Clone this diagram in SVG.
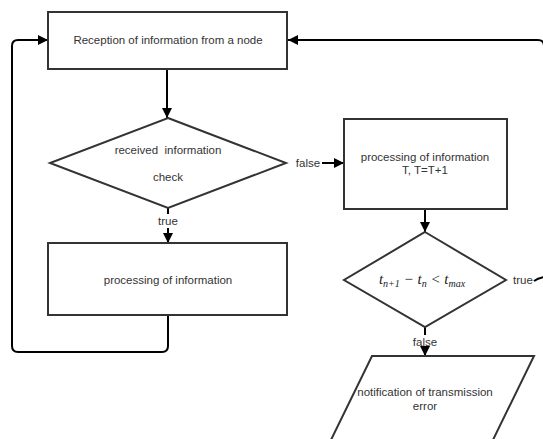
<svg xmlns="http://www.w3.org/2000/svg" width="543" height="439" viewBox="0 0 543 439">
<defs>
<marker id="ah" viewBox="0 0 10 10" refX="10" refY="5" markerWidth="10" markerHeight="10" markerUnits="userSpaceOnUse" orient="auto">
<path d="M0,0 L10,5 L0,10 Z" fill="#000"/>
</marker>
<style>
.shape{fill:#fff;stroke:#333;stroke-width:2}
.t{font-family:"Liberation Sans",Arial,sans-serif;font-size:11.5px;fill:#333;text-anchor:middle;white-space:pre}
.lbl{font-family:"Liberation Sans",Arial,sans-serif;font-size:11.5px;fill:#333;text-anchor:middle}
.c{fill:none;stroke:#000;stroke-width:2}
.m{font-family:"Liberation Serif","Times New Roman",serif;font-style:italic;fill:#222}
</style>
</defs>
<rect width="543" height="439" fill="#fff"/>
<g id="connectors">
<path class="c" d="M167,69 V118" marker-end="url(#ah)"/>
<path class="c" d="M168,208 V214"/>
<path class="c" d="M168,228 V243" marker-end="url(#ah)"/>
<path class="c" d="M322,163 H344" marker-end="url(#ah)"/>
<path class="c" d="M425,209 V232" marker-end="url(#ah)"/>
<path class="c" d="M425,327 V335"/>
<path class="c" d="M425,349 V356" marker-end="url(#ah)"/>
<path class="c" d="M168,315 V346 Q168,352 162,352 H18 Q12,352 12,346 V46 Q12,40 18,40 H48" marker-end="url(#ah)"/>
<path class="c" d="M534,281 Q538,278 544,277 V46 Q544,40 538,40 H288" marker-end="url(#ah)"/>
<text class="lbl" x="308" y="167">false</text>
<text class="lbl" x="168" y="225">true</text>
<text class="lbl" x="523" y="284">true</text>
<text class="lbl" x="425" y="346">false</text>
</g>
<g id="reception">
<rect class="shape" x="48" y="12" width="239" height="57"/>
<text class="t" x="168" y="44">Reception of information from a node</text>
</g>
<g id="check">
<path class="shape" d="M168,118 L286,163 L168,208 L50,163 Z"/>
<text class="t" x="168" y="154">received  information</text>
<text class="t" x="168" y="181">check</text>
</g>
<g id="processing-T">
<rect class="shape" x="344" y="119" width="163" height="90"/>
<text class="t" x="425" y="161">processing of information</text>
<text class="t" x="425" y="174">T, T=T+1</text>
</g>
<g id="processing">
<rect class="shape" x="48" y="243" width="239" height="72"/>
<text class="t" x="168" y="284">processing of information</text>
</g>
<g id="time-check">
<path class="shape" d="M425,232 L506,280 L425,327 L344,280 Z"/>
<text class="m" x="422" y="284" text-anchor="middle" font-size="15">t<tspan font-size="10" dy="3">n+1</tspan><tspan dy="-3"> − t</tspan><tspan font-size="10" dy="3">n</tspan><tspan dy="-3"> &lt; t</tspan><tspan font-size="10" dy="3">max</tspan></text>
</g>
<g id="notification">
<path class="shape" d="M372,356 L534,356 L490,446 L328,446 Z"/>
<text class="t" x="425" y="396">notification of transmission</text>
<text class="t" x="425" y="410">error</text>
</g>
</svg>
